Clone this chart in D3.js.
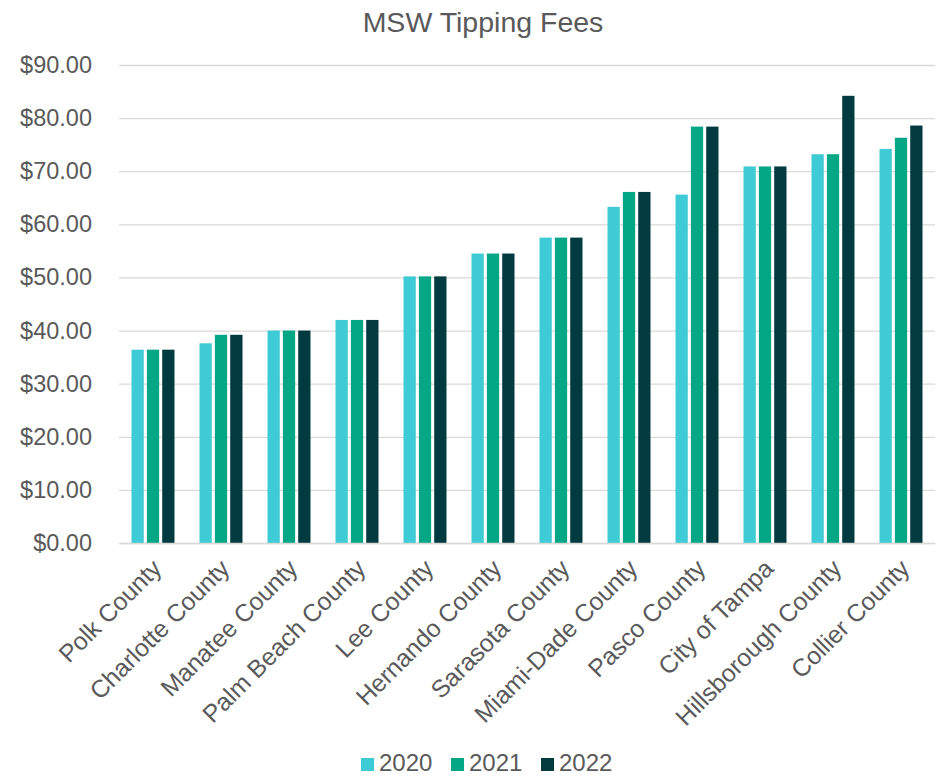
<!DOCTYPE html>
<html>
<head>
<meta charset="utf-8">
<script src="https://cdn.jsdelivr.net/npm/d3@7"></script>
<style>
  body { margin: 0; background: #fff; }
  svg text { font-family: Arial, "Liberation Sans", sans-serif; fill: #595959; }
</style>
</head>
<body>
<div id="chart"></div>
<script>
const categories = ['Polk County', 'Charlotte County', 'Manatee County', 'Palm Beach County', 'Lee County',
  'Hernando County', 'Sarasota County', 'Miami-Dade County', 'Pasco County', 'City of Tampa',
  'Hillsborough County', 'Collier County']
const years = ['2020', '2021', '2022']
const fees2020 = [36.4, 37.6, 40.0, 42.0, 50.2, 54.5, 57.5, 63.3, 65.6, 70.9, 73.2, 74.2]
const fees2021 = [36.4, 39.2, 40.0, 42.0, 50.2, 54.5, 57.5, 66.1, 78.4, 70.9, 73.2, 76.3]
const fees2022 = [36.4, 39.2, 40.0, 42.0, 50.2, 54.5, 57.5, 66.1, 78.4, 70.9, 84.2, 78.6]
const yTicks = [0, 10, 20, 30, 40, 50, 60, 70, 80, 90]
const colors = ['#3ecbd5', '#03a785', '#023b3f']

const series = [fees2020, fees2021, fees2022]
const W = 941, H = 776
const margin = { top: 65, right: 6, bottom: 233, left: 119 }
const width = W - margin.left - margin.right
const height = H - margin.top - margin.bottom

const svg = d3.select('#chart').append('svg')
  .attr('width', W)
  .attr('height', H)

// title
svg.append('text')
  .attr('x', 483)
  .attr('y', 32)
  .attr('text-anchor', 'middle')
  .style('font-size', '28.5px')
  .text('MSW Tipping Fees')

const g = svg.append('g')
  .attr('transform', 'translate(' + margin.left + ',' + margin.top + ')')

const x = d3.scaleBand()
  .domain(categories)
  .range([0, width])
  .paddingInner(0.368)
  .paddingOuter(0.184)

const xInner = d3.scaleBand()
  .domain(years)
  .range([0, x.bandwidth()])
  .paddingInner(0.2)

const y = d3.scaleLinear()
  .domain([0, 90])
  .range([height, 0])

// gridlines + y labels
const yAxis = g.append('g')
  .call(d3.axisLeft(y).tickValues(yTicks).tickSize(-width).tickPadding(27)
    .tickFormat(d => '$' + d3.format(',.2f')(d)))
yAxis.select('.domain').remove()
yAxis.selectAll('.tick line').attr('stroke', '#d9d9d9').attr('stroke-width', 1.3)
yAxis.selectAll('.tick text').style('font-size', '23.5px').attr('fill', '#595959')

// bars
years.forEach((yr, i) => {
  g.append('g').selectAll('rect')
    .data(series[i])
    .join('rect')
    .attr('x', (d, j) => x(categories[j]) + xInner(yr))
    .attr('y', d => y(d))
    .attr('width', xInner.bandwidth())
    .attr('height', d => y(0) - y(d))
    .attr('fill', colors[i])
})

// x axis labels
const xAxis = g.append('g')
  .attr('transform', 'translate(0,' + height + ')')
  .call(d3.axisBottom(x).tickSize(0).tickPadding(0))
xAxis.select('.domain').attr('stroke', '#d9d9d9').attr('stroke-width', 1.3)
xAxis.selectAll('.tick text')
  .style('font-size', '24.7px')
  .attr('fill', '#595959')
  .attr('text-anchor', 'end')
  .attr('dy', 0)
  .attr('y', 0)
  .attr('transform', 'translate(10,27) rotate(-45)')

// legend
const legend = svg.append('g')
  .attr('transform', 'translate(361,758)')
years.forEach((yr, i) => {
  const item = legend.append('g').attr('transform', 'translate(' + (i * 90) + ',0)')
  item.append('rect')
    .attr('width', 13)
    .attr('height', 13)
    .attr('fill', colors[i])
  item.append('text')
    .attr('x', 18)
    .attr('y', 13)
    .style('font-size', '24px')
    .text(yr)
})
</script>
</body>
</html>
